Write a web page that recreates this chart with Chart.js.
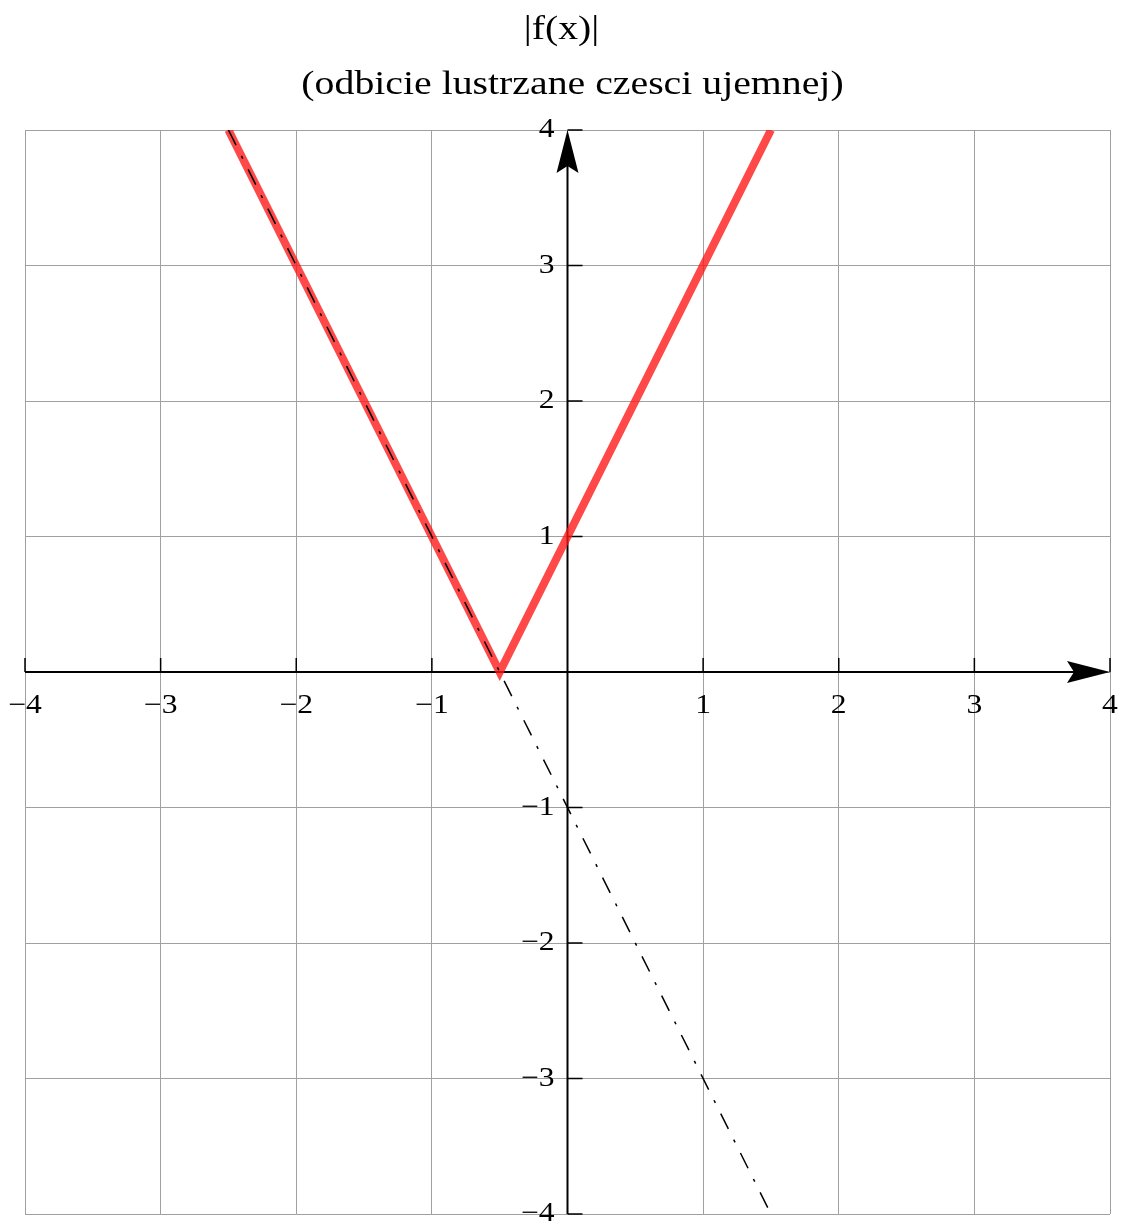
<!DOCTYPE html>
<html>
<head>
<meta charset="utf-8">
<title>|f(x)|</title>
<script src="https://cdn.jsdelivr.net/npm/chart.js@4.4.1/dist/chart.umd.min.js"></script>
<style>
  html, body { margin: 0; padding: 0; background: #ffffff; }
  #wrap { width: 1121px; height: 1226px; position: relative; }
</style>
</head>
<body>
<div id="wrap"><canvas id="plot"></canvas></div>
<script>
// f(x) = -2x - 1 and its absolute value |f(x)|
const xValues   = [-2.5, -0.5, 1.5];
const absValues = [4, 0, 4];      // |f(x)|
const fValues   = [4, 0, -4];     // f(x)

const xTicks = [-4, -3, -2, -1, 1, 2, 3, 4];
const xTickLabels = ['\u22124', '\u22123', '\u22122', '\u22121', '1', '2', '3', '4'];
const yTicks = [-4, -3, -2, -1, 1, 2, 3, 4];
const yTickLabels = ['\u22124', '\u22123', '\u22122', '\u22121', '1', '2', '3', '4'];

const titleLines = ['|f(x)|', '(odbicie lustrzane czesci ujemnej)'];

const serif = '"Liberation Serif", "Times New Roman", serif';
const textStretch = 1.17;   // slightly wide serif lettering

function pts(xs, ys) { return xs.map((x, i) => ({ x: x, y: ys[i] })); }

// text drawn with a horizontal stretch around its anchor point
function wideText(ctx, str, px, py, align) {
  ctx.save();
  ctx.translate(px, py);
  ctx.scale(textStretch, 1);
  ctx.textAlign = align;
  ctx.fillText(str, 0, 0);
  ctx.restore();
}

// Draws the title, centred axes with arrowheads, tick marks and tick labels
const centredAxes = {
  id: 'centredAxes',
  beforeDatasetsDraw(chart) {
    const { ctx, scales: { x, y } } = chart;
    const x0 = x.getPixelForValue(0);
    const y0 = y.getPixelForValue(0);
    const xl = x.getPixelForValue(-4), xr = x.getPixelForValue(4);
    const yt = y.getPixelForValue(4), yb = y.getPixelForValue(-4);
    ctx.save();
    ctx.strokeStyle = '#000';
    ctx.fillStyle = '#000';
    ctx.lineWidth = 2;
    ctx.beginPath();
    ctx.moveTo(xl, y0); ctx.lineTo(xr - 20, y0);
    ctx.moveTo(x0, yb); ctx.lineTo(x0, yt + 20);
    ctx.stroke();
    // tick marks
    ctx.lineWidth = 1.5;
    ctx.beginPath();
    xTicks.forEach(v => { const px = x.getPixelForValue(v); ctx.moveTo(px, y0); ctx.lineTo(px, y0 - 14); });
    yTicks.forEach(v => { const py = y.getPixelForValue(v); ctx.moveTo(x0, py); ctx.lineTo(x0 + 15, py); });
    ctx.stroke();
    // arrowheads
    ctx.beginPath();
    ctx.moveTo(xr, y0);
    ctx.lineTo(xr - 43, y0 - 11);
    ctx.lineTo(xr - 36, y0);
    ctx.lineTo(xr - 43, y0 + 11);
    ctx.closePath();
    ctx.fill();
    ctx.beginPath();
    ctx.moveTo(x0, yt);
    ctx.lineTo(x0 - 11, yt + 43);
    ctx.lineTo(x0, yt + 36);
    ctx.lineTo(x0 + 11, yt + 43);
    ctx.closePath();
    ctx.fill();
    ctx.restore();
  },
  afterDraw(chart) {
    const { ctx, scales: { x, y } } = chart;
    const x0 = x.getPixelForValue(0);
    const y0 = y.getPixelForValue(0);
    const cx = chart.width / 2;
    ctx.save();
    ctx.fillStyle = '#000';
    ctx.textBaseline = 'middle';
    ctx.font = '34px ' + serif;
    wideText(ctx, titleLines[0], cx + 1, 30, 'center');
    wideText(ctx, titleLines[1], cx + 12, 85, 'center');

    ctx.font = '27px ' + serif;
    ctx.textBaseline = 'alphabetic';
    xTicks.forEach((v, i) => wideText(ctx, xTickLabels[i], x.getPixelForValue(v), y0 + 41, 'center'));
    ctx.textBaseline = 'middle';
    yTicks.forEach((v, i) => wideText(ctx, yTickLabels[i], x0 - 13, y.getPixelForValue(v), 'right'));
    ctx.restore();
  }
};

new Chart(document.getElementById('plot'), {
  type: 'scatter',
  data: {
    datasets: [
      {
        label: 'f(x)',
        data: pts(xValues, fValues),
        showLine: true,
        borderColor: '#000000',
        borderWidth: 1.5,
        borderDash: [17, 12, 3, 12],
        pointRadius: 0,
        fill: false,
        order: 0
      },
      {
        label: '|f(x)|',
        data: pts(xValues, absValues),
        showLine: true,
        borderColor: 'rgba(255, 20, 20, 0.78)',
        borderWidth: 8,
        pointRadius: 0,
        fill: false,
        order: 1
      }
    ]
  },
  plugins: [centredAxes],
  options: {
    responsive: true,
    maintainAspectRatio: false,
    animation: false,
    layout: { padding: { left: 25, right: 11, bottom: 12, top: 130 } },
    plugins: {
      legend: { display: false },
      tooltip: { enabled: false },
      title: { display: false }
    },
    scales: {
      x: {
        type: 'linear', min: -4, max: 4,
        ticks: { display: false, stepSize: 1 },
        grid: { color: '#a0a0a0', lineWidth: 1, drawTicks: false },
        border: { display: false }
      },
      y: {
        type: 'linear', min: -4, max: 4,
        ticks: { display: false, stepSize: 1 },
        grid: { color: '#a0a0a0', lineWidth: 1, drawTicks: false },
        border: { display: false }
      }
    }
  }
});
</script>
</body>
</html>
